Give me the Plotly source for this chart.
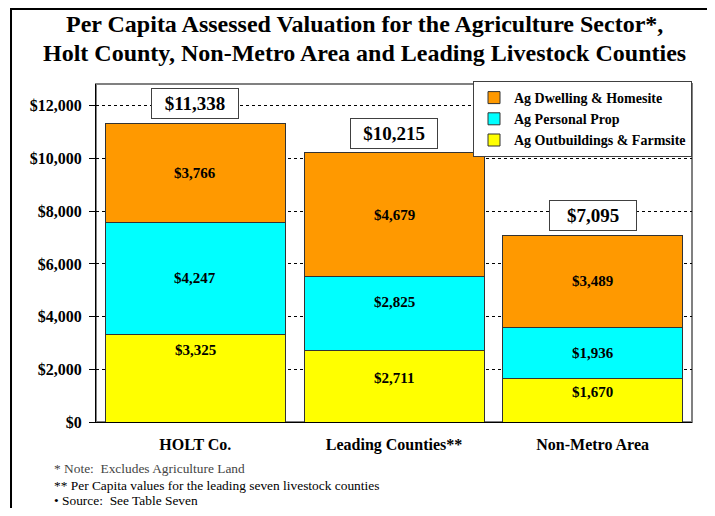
import plotly.graph_objects as go

# ---------------- data ----------------
categories = ["HOLT Co.", "Leading Counties**", "Non-Metro Area"]
outbuildings = [3325, 2711, 1670]   # Ag Outbuildings & Farmsite
personal = [4247, 2825, 1936]       # Ag Personal Prop
dwelling = [3766, 4679, 3489]       # Ag Dwelling & Homesite
totals = [11338, 10215, 7095]
tick_values = [0, 2000, 4000, 6000, 8000, 10000, 12000]

series_names = ["Ag Outbuildings & Farmsite", "Ag Personal Prop", "Ag Dwelling & Homesite"]
title_lines = [
    "Per Capita Assessed Valuation for the Agriculture Sector*,",
    "Holt County, Non-Metro Area and Leading Livestock Counties",
]
notes = [
    "* Note:  Excludes Agriculture Land",
    "** Per Capita values for the leading seven livestock counties",
    "\u2022 Source:  See Table Seven",
]

# ---------------- style ----------------
FONT = "Liberation Serif, Times New Roman, serif"
colors = ["#FFFF00", "#00FFFF", "#FF9900"]
label_shift = [[28, 8, 8], [0, 11, 0], [0, 0, 0]]  # pixel nudges of in-bar labels
note_colors = ["#444444", "#000000", "#000000"]
note_y = [-0.1361, -0.1893, -0.2337]
title_y = [1.1775, 1.0917]

series = [outbuildings, personal, dwelling]

fig = go.Figure()
for name, vals, col in zip(series_names, series, colors):
    fig.add_trace(go.Bar(
        x=categories, y=vals, name=name,
        marker=dict(color=col, line=dict(color="#333333", width=1)),
        hoverinfo="skip",
    ))

annotations = []
# title
for txt, yy in zip(title_lines, title_y):
    annotations.append(dict(
        x=0.4513, y=yy, xref="paper", yref="paper",
        xanchor="center", yanchor="middle", text="<b>%s</b>" % txt, showarrow=False,
        font=dict(family=FONT, size=24, color="black"),
    ))

# in-bar value labels
base = [0, 0, 0]
for si, vals in enumerate(series):
    for ci, v in enumerate(vals):
        annotations.append(dict(
            x=categories[ci], y=base[ci] + v / 2, xref="x", yref="y",
            text="<b>$%s</b>" % format(v, ","), showarrow=False,
            yshift=label_shift[si][ci],
            font=dict(family=FONT, size=15, color="black"),
        ))
        base[ci] += v

# total boxes
for ci, t in enumerate(totals):
    annotations.append(dict(
        x=categories[ci], y=t, xref="x", yref="y",
        text="<b>$%s</b>" % format(t, ","), showarrow=False,
        yanchor="bottom", yshift=4,
        bgcolor="white", bordercolor="#404040", borderwidth=1, borderpad=4,
        width=78,
        font=dict(family=FONT, size=19, color="black"),
    ))

# notes
for txt, col, yy in zip(notes, note_colors, note_y):
    annotations.append(dict(
        x=-0.0738, y=yy, xref="paper", yref="paper",
        xanchor="left", yanchor="middle", text=txt, showarrow=False,
        font=dict(family=FONT, size=13.4, color=col),
    ))

shapes = [
    # outer frame
    dict(type="rect", xref="paper", yref="paper", x0=-0.1426, x1=1.3, y0=-0.6, y1=1.2219,
         line=dict(color="black", width=2), fillcolor="rgba(0,0,0,0)", layer="above"),
    # plot area border
    dict(type="rect", xref="paper", yref="paper", x0=0, x1=1, y0=0, y1=1,
         line=dict(color="#808080", width=2), fillcolor="rgba(0,0,0,0)", layer="below"),
]

fig.update_layout(
    width=699, height=500,
    margin=dict(l=88, r=15, t=76, b=86),
    paper_bgcolor="white", plot_bgcolor="white",
    barmode="stack", bargap=0.094,
    font=dict(family=FONT, color="black"),
    legend=dict(
        x=1, xanchor="right", y=1 + 3 / 338, yanchor="top",
        bgcolor="white", bordercolor="#404040", borderwidth=1,
        traceorder="reversed",
        font=dict(family=FONT, size=14, color="black", weight="bold"),
        tracegroupgap=0,
    ),
    xaxis=dict(
        showline=True, linecolor="black", linewidth=1,
        showgrid=False, ticks="",
        tickfont=dict(family=FONT, size=16, color="black", weight="bold"),
        ticklabelstandoff=8,
    ),
    yaxis=dict(
        range=[0, 12830], tickvals=tick_values,
        tickformat="$,.0f",
        showline=True, linecolor="black", linewidth=1,
        showgrid=True, gridcolor="black", griddash="dot", gridwidth=1,
        ticks="outside", ticklen=6, tickcolor="black",
        tickfont=dict(family=FONT, size=16, color="black", weight="bold"),
        ticklabelstandoff=4,
        zeroline=False,
    ),
    annotations=annotations,
    shapes=shapes,
    showlegend=True,
)

fig.write_html("out.html")
